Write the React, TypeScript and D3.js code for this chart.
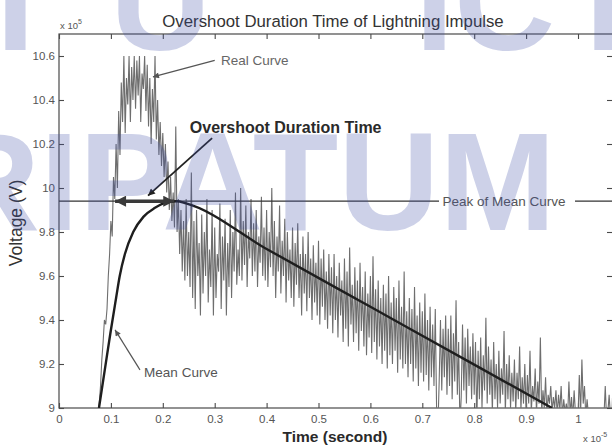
import { useEffect, useRef } from "react";
import * as d3 from "d3";

const width = 612;
const height = 448;

// axis ticks
const xTicks = [0, 0.1, 0.2, 0.3, 0.4, 0.5, 0.6, 0.7, 0.8, 0.9, 1];
const xTickLabels = ["0", "0.1", "0.2", "0.3", "0.4", "0.5", "0.6", "0.7", "0.8", "0.9", "1"];
const yTicks = [9, 9.2, 9.4, 9.6, 9.8, 10, 10.2, 10.4, 10.6];
const yTickLabels = ["9", "9.2", "9.4", "9.6", "9.8", "10", "10.2", "10.4", "10.6"];

// real (measured) curve, sampled every 0.0025 (x 1e-5 s) from t = 0.075
const realStart = 0.075;
const realStep = 0.0025;
const realVoltage = [
  8.98, 9.02, 9.1, 9.22, 9.3, 9.4, 9.38, 9.45, 9.6, 9.7,
  9.85, 9.78, 10.05, 9.95, 10.2, 10.0, 10.35, 10.15, 10.48, 10.3,
  10.6, 10.25, 10.5, 10.38, 10.6, 10.3, 10.55, 10.4, 10.6, 10.36,
  10.58, 10.42, 10.6, 10.3, 10.52, 10.45, 10.6, 10.35, 10.56, 10.28,
  10.5, 10.2, 10.45, 10.3, 10.6, 10.22, 10.4, 10.15, 10.3, 10.1,
  10.25, 10.05, 10.2, 9.98, 10.12, 9.9, 10.05, 9.85, 9.98, 9.82,
  10.28, 9.8, 9.95, 9.7, 9.9, 9.62, 9.85, 9.58, 9.95, 9.6,
  9.8, 9.55, 10.07, 9.5, 9.85, 9.45, 9.9, 9.6, 9.75, 9.42,
  9.88, 9.52, 9.8, 9.6, 9.95, 9.48, 9.72, 9.55, 9.9, 9.42,
  9.82, 9.5, 9.7, 9.62, 9.93, 9.45, 9.78, 9.58, 9.86, 9.42,
  9.75, 9.55, 9.9, 9.5, 9.8, 9.62, 9.98, 9.56, 9.72, 9.6,
  10.0, 9.58, 9.85, 9.65, 9.92, 9.55, 9.8, 9.68, 9.95, 9.6,
  9.84, 9.62, 9.9, 9.55, 9.78, 9.66, 9.96, 9.6, 9.82, 9.58,
  9.9, 9.55, 9.8, 9.64, 10.0, 9.6, 9.85, 9.5, 9.78, 9.62,
  9.92, 9.52, 9.76, 9.6, 9.86, 9.48, 9.8, 9.58, 9.72, 9.5,
  9.82, 9.46, 9.75, 9.56, 9.84, 9.5, 9.7, 9.42, 9.78, 9.52,
  9.7, 9.44, 9.8, 9.5, 9.68, 9.4, 9.74, 9.48, 9.66, 9.42,
  9.76, 9.38, 9.68, 9.46, 9.72, 9.4, 9.62, 9.36, 9.7, 9.42,
  9.64, 9.34, 9.7, 9.4, 9.6, 9.32, 9.66, 9.42, 9.58, 9.3,
  9.68, 9.36, 9.62, 9.28, 9.73, 9.38, 9.56, 9.3, 9.64, 9.34,
  9.58, 9.26, 9.66, 9.35, 9.55, 9.28, 9.62, 9.24, 9.52, 9.32,
  9.6, 9.25, 9.69, 9.3, 9.54, 9.22, 9.58, 9.28, 9.5, 9.2,
  9.56, 9.26, 9.52, 9.18, 9.6, 9.24, 9.48, 9.2, 9.55, 9.26,
  9.5, 9.16, 9.58, 9.22, 9.46, 9.18, 9.62, 9.2, 9.44, 9.14,
  9.5, 9.2, 9.45, 9.12, 9.55, 9.18, 9.42, 9.1, 9.48, 9.16,
  9.44, 9.12, 9.52, 9.15, 9.4, 9.08, 9.46, 9.14, 9.38, 9.1,
  9.45, 9.0, 8.9, 9.12, 9.4, 9.08, 9.36, 9.14, 9.42, 9.06,
  9.36, 9.1, 9.42, 9.04, 9.34, 9.12, 9.49, 9.06, 9.3, 8.92,
  9.05, 9.38, 9.08, 9.32, 9.02, 9.36, 9.1, 9.28, 9.04, 9.34,
  9.06, 9.3, 8.92, 9.26, 9.04, 9.32, 9.0, 9.24, 9.08, 9.41,
  9.02, 9.28, 9.06, 9.22, 8.98, 9.3, 9.04, 9.2, 9.0, 9.26,
  9.02, 9.18, 9.06, 9.35, 8.98, 9.2, 9.04, 9.24, 9.0, 9.16,
  9.03, 9.22, 8.98, 9.16, 9.04, 9.28, 8.99, 9.14, 9.02, 9.2,
  8.97, 9.15, 9.02, 9.26, 8.98, 9.1, 9.03, 9.18, 8.98, 9.12,
  9.02, 9.32, 8.97, 9.08, 9.0, 9.14, 8.97, 9.06, 9.02, 9.1,
  8.98, 9.05, 9.0, 9.08, 8.97, 9.06, 8.99, 9.1, 8.96, 9.04,
  8.98, 9.02, 8.96, 9.12, 8.97, 9.05, 8.95, 9.08, 8.98, 9.0,
  8.96, 9.15, 8.97, 9.22, 9.02, 9.1, 8.96, 9.04, 8.97, 8.95,
  8.97, 8.94, 8.96, 8.98, 8.95, 8.97, 8.94, 8.96, 8.95, 8.97,
  8.96, 9.1, 8.95, 8.98, 9.06, 8.96, 8.94, 9.12, 8.97, 8.95,
];

// smoothed mean curve
const meanTime = [0.077, 0.088, 0.099, 0.11, 0.117, 0.127, 0.143, 0.163, 0.185, 0.207, 0.227, 0.245, 0.4, 0.6, 0.8, 0.95];
const meanVoltage = [9.0, 9.17, 9.34, 9.5, 9.6, 9.7, 9.8, 9.87, 9.91, 9.935, 9.94, 9.93, 9.723, 9.46, 9.197, 9.0];

const peakVoltage = 9.94;
const overshootFrom = 0.108;
const overshootTo = 0.222;

export default function App() {
  const svgRef = useRef<SVGSVGElement>(null);

  useEffect(() => {
    if (!svgRef.current) return;
    const svg = d3.select(svgRef.current);
    svg.selectAll("*").remove();

    const margin = { top: 34, right: 0, bottom: 40, left: 59 };
    const innerH = height - margin.top - margin.bottom;
    const font = "'Liberation Sans', Arial, sans-serif";
    const axisColor = "#4a4a4a";

    const x = d3.scaleLinear().domain([0, 1.0655]).range([margin.left, width]);
    const y = d3.scaleLinear().domain([9, 10.7]).range([margin.top + innerH, margin.top]);

    const defs = svg.append("defs");
    defs.append("clipPath").attr("id", "plot-clip")
      .append("rect")
      .attr("x", x(0)).attr("y", y(10.7))
      .attr("width", x(1.0655) - x(0)).attr("height", y(9) - y(10.7));

    const marker = (id: string, color: string, w: number, h: number) =>
      defs.append("marker")
        .attr("id", id)
        .attr("viewBox", "0 0 10 10")
        .attr("refX", 10).attr("refY", 5)
        .attr("markerUnits", "userSpaceOnUse")
        .attr("markerWidth", w).attr("markerHeight", h)
        .attr("orient", "auto-start-reverse")
        .append("path").attr("d", "M0,0L10,5L0,10z").attr("fill", color);
    marker("arrow-thin", "#555", 8, 6);
    marker("arrow-dark", "#222", 9, 7);
    marker("arrow-big", "#3a3a3a", 20, 11);

    svg.append("rect").attr("width", width).attr("height", height).attr("fill", "#fff");

    // frame
    svg.append("rect")
      .attr("x", x(0)).attr("y", y(10.7))
      .attr("width", x(1.0655) - x(0) + 1).attr("height", y(9) - y(10.7))
      .attr("fill", "none").attr("stroke", axisColor).attr("stroke-width", 1.2);

    // axes
    const styleAxis = (g: d3.Selection<SVGGElement, unknown, null, undefined>) => {
      g.select(".domain").remove();
      g.selectAll(".tick line").attr("stroke", axisColor).attr("stroke-width", 1.1);
      g.selectAll(".tick text").attr("fill", "#555").attr("font-size", 11.5).attr("font-family", font);
    };

    svg.append("g")
      .attr("transform", `translate(0,${y(9)})`)
      .call(d3.axisBottom(x).tickValues(xTicks).tickSize(-5).tickPadding(7)
        .tickFormat((_, i) => xTickLabels[i]))
      .call(styleAxis);
    svg.append("g")
      .attr("transform", `translate(0,${y(10.7)})`)
      .call(d3.axisTop(x).tickValues(xTicks).tickSize(-5).tickFormat(() => ""))
      .call(styleAxis);
    svg.append("g")
      .attr("transform", `translate(${x(0)},0)`)
      .call(d3.axisLeft(y).tickValues(yTicks).tickSize(-5).tickPadding(4)
        .tickFormat((_, i) => yTickLabels[i]))
      .call(styleAxis);
    svg.append("g")
      .attr("transform", `translate(${x(1.0655)},0)`)
      .call(d3.axisRight(y).tickValues(yTicks).tickSize(-5).tickFormat(() => ""))
      .call(styleAxis);

    const plot = svg.append("g").attr("clip-path", "url(#plot-clip)");

    // real curve
    const realData = realVoltage.map((v, i) => [realStart + i * realStep, v] as [number, number]);
    plot.append("path")
      .datum(realData)
      .attr("d", d3.line<[number, number]>().x(d => x(d[0])).y(d => y(d[1])))
      .attr("fill", "none")
      .attr("stroke", "#6e6e6e")
      .attr("stroke-width", 1.1);

    // peak of mean curve line, broken by its label
    const labelX = 504;
    plot.append("line")
      .attr("x1", x(0)).attr("x2", labelX - 65)
      .attr("y1", y(peakVoltage)).attr("y2", y(peakVoltage))
      .attr("stroke", "#333").attr("stroke-width", 1.3);
    plot.append("line")
      .attr("x1", labelX + 71).attr("x2", width)
      .attr("y1", y(peakVoltage)).attr("y2", y(peakVoltage))
      .attr("stroke", "#333").attr("stroke-width", 1.3);
    svg.append("text")
      .attr("x", labelX).attr("y", y(peakVoltage) + 5)
      .attr("text-anchor", "middle")
      .attr("font-family", font).attr("font-size", 13.5).attr("fill", "#555")
      .text("Peak of Mean Curve");

    // mean curve
    const meanData = meanTime.map((t, i) => [t, meanVoltage[i]] as [number, number]);
    plot.append("path")
      .datum(meanData)
      .attr("d", d3.line<[number, number]>().x(d => x(d[0])).y(d => y(d[1])).curve(d3.curveMonotoneX))
      .attr("fill", "none")
      .attr("stroke", "#1e1e1e")
      .attr("stroke-width", 2.4);

    // overshoot double arrow
    svg.append("line")
      .attr("x1", x(overshootFrom)).attr("x2", x(overshootTo))
      .attr("y1", y(peakVoltage)).attr("y2", y(peakVoltage))
      .attr("stroke", "#3a3a3a").attr("stroke-width", 3.5)
      .attr("marker-start", "url(#arrow-big)")
      .attr("marker-end", "url(#arrow-big)");

    // annotations
    const pointer = (from: [number, number], to: [number, number], id: string, color: string, w: number) =>
      svg.append("line")
        .attr("x1", x(from[0])).attr("y1", y(from[1]))
        .attr("x2", x(to[0])).attr("y2", y(to[1]))
        .attr("stroke", color).attr("stroke-width", w)
        .attr("marker-end", `url(#${id})`);

    svg.append("text")
      .attr("x", x(0.312)).attr("y", y(10.56))
      .attr("font-family", font).attr("font-size", 13.5).attr("fill", "#666")
      .text("Real Curve");
    pointer([0.3, 10.58], [0.181, 10.505], "arrow-thin", "#555", 1.2);

    svg.append("text")
      .attr("x", x(0.252)).attr("y", y(10.25))
      .attr("font-family", font).attr("font-size", 16).attr("font-weight", "bold").attr("fill", "#2a2a2a")
      .text("Overshoot Duration Time");
    pointer([0.295, 10.227], [0.1715, 9.965], "arrow-dark", "#222", 1.8);

    svg.append("text")
      .attr("x", x(0.164)).attr("y", y(9.141))
      .attr("font-family", font).attr("font-size", 13.5).attr("fill", "#555")
      .text("Mean Curve");
    pointer([0.156, 9.173], [0.108, 9.355], "arrow-thin", "#555", 1.2);

    // titles
    svg.append("text")
      .attr("x", 333).attr("y", 27)
      .attr("text-anchor", "middle")
      .attr("font-family", font).attr("font-size", 16.8).attr("fill", "#333")
      .text("Overshoot Duration Time of Lightning Impulse");

    const expo = (px: number, py: number, sup: string) => {
      const t = svg.append("text").attr("x", px).attr("y", py)
        .attr("font-family", font).attr("font-size", 9.5).attr("fill", "#555");
      t.append("tspan").text("x 10");
      t.append("tspan").attr("dy", -5).attr("font-size", 7).text(sup);
    };
    expo(60, 29, "5");
    expo(583, 442, "-5");

    svg.append("text")
      .attr("x", 335).attr("y", 442)
      .attr("text-anchor", "middle")
      .attr("font-family", font).attr("font-size", 15.5).attr("font-weight", "bold").attr("fill", "#2a2a2a")
      .text("Time (second)");

    svg.append("text")
      .attr("transform", `translate(22,223) rotate(-90)`)
      .attr("text-anchor", "middle")
      .attr("font-family", font).attr("font-size", 17.5).attr("fill", "#333")
      .text("Voltage (V)");

    // repository watermark
    const wm = svg.append("g")
      .attr("font-family", font).attr("font-weight", "bold")
      .attr("fill", "#3f4fa6").attr("fill-opacity", 0.26)
      .attr("pointer-events", "none");
    wm.append("text").attr("x", -61).attr("y", 230).attr("font-size", 140).text("RIPATUM");
    wm.append("text").attr("x", -4).attr("y", 50).attr("font-size", 140).text("I");
    wm.append("text").attr("x", 110).attr("y", 50).attr("font-size", 140).text("U");
    wm.append("text").attr("x", 415).attr("y", 50).attr("font-size", 140).text("IC");
    wm.append("text").attr("x", 585).attr("y", 50).attr("font-size", 140).text("I");
  }, []);

  return (
    <div style={{ position: "absolute", left: 0, top: 0 }}>
      <svg ref={svgRef} width={width} height={height} style={{ display: "block" }} />
    </div>
  );
}
